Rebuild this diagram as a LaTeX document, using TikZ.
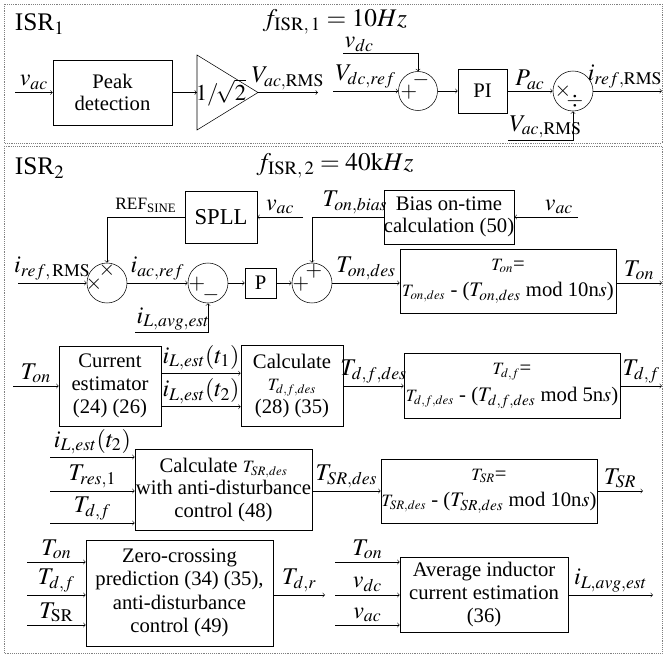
\documentclass[tikz,border=0pt]{standalone}
\usepackage{mathptmx}
\usepackage{fontspec}
\setmainfont{Liberation Serif}
\newcommand{\tsub}[1]{{\fontsize{13}{17}\selectfont$#1$}}
\begin{document}
\begin{tikzpicture}[x=0.75pt,y=0.75pt,yscale=-1,xscale=1,
    blk/.style={draw, align=center, inner sep=0pt, font=\fontsize{15.5}{17}\selectfont},
    modbox/.style={blk, minimum width=162pt, minimum height=48pt, font=\fontsize{15.5}{20}\selectfont},
    sumc/.style={draw, circle, minimum size=30pt, inner sep=0pt},
    lbl/.style={font=\fontsize{18}{20}\selectfont, inner sep=2pt},
    sgn/.style={font=\fontsize{16}{16}\selectfont, inner sep=0pt},
    region/.style={draw=gray, densely dotted}]
    \useasboundingbox (0,0) rectangle (665,656);
    % ISR1
    \draw[region] (4,4) rectangle (662,143);
    \node[lbl, anchor=west, font=\fontsize{19}{21}\selectfont] at (12,24) {ISR$_1$};
    \node[lbl, font=\fontsize{19}{21}\selectfont] at (335,22) {$f_{\mathrm{ISR,\,1}} = 10Hz$};
    \coordinate (vac1) at (15,92.5);
    \node[blk, minimum width=89.25pt, minimum height=48.75pt] (peak) at (112.5,92.5) {Peak\\detection};
    \draw (197,55) -- (258,92.5) -- (197,130) -- cycle;
    \coordinate (gainin) at (197,92.5);
    \coordinate (gainout) at (258,92.5);
    \node[lbl, font=\fontsize{17}{19}\selectfont, inner sep=0pt] (gain) at (221,92.5) {$1/\!\sqrt{2}$};
    \coordinate (vrms1) at (318,92.5);
    \coordinate (vdcref) at (333,91);
    \coordinate (vdc) at (343,53);
    \node[sumc, minimum size=29.25pt] (sum1) at (418,91) {};
    \node[sgn] at (409,92) {$+$};
    \node[sgn] at (421,80) {$-$};
    \node[blk, minimum width=36.75pt, minimum height=33pt] (pi) at (482.5,91) {PI};
    \node[sumc] (mul1) at (573,91) {};
    \node[sgn] at (563,91) {$\times$};
    \node[sgn] at (575,101) {$\div$};
    \coordinate (vrms2) at (508,140);
    \coordinate (irefout) at (662,91);
    \draw[->] (vac1) -- node[lbl, above] {$v_{ac}$} (peak);
    \draw[->] (peak) -- (gainin);
    \draw[->] (gainout) -- node[lbl, above] {$V_{ac,\mathrm{RMS}}$} (vrms1);
    \draw[->] (vdcref) -- node[lbl, above] {$V_{dc,ref}$} (sum1);
    \draw[->] (vdc) -| (sum1);
    \node[lbl, above right, inner sep=1pt] at (vdc) {$v_{dc}$};
    \draw[->] (sum1) -- (pi);
    \draw[->] (pi) -- node[lbl, above, inner sep=1pt] {$P_{ac}$} (mul1);
    \draw[->] (vrms2) -| (mul1);
    \node[lbl, above right, inner sep=1pt] at (vrms2) {$V_{ac,\mathrm{RMS}}$};
    \draw[->] (mul1) -- node[lbl, above, xshift=-2pt] {$i_{ref,\mathrm{RMS}}$} (irefout);
    % ISR2
    \draw[region] (4,146) rectangle (662,653);
    \node[lbl, anchor=west, font=\fontsize{19}{21}\selectfont] at (12,168) {ISR$_2$};
    \node[lbl, font=\fontsize{19}{21}\selectfont] at (335,166) {$f_{\mathrm{ISR,\,2}} = 40\mathrm{k}Hz$};
    \node[blk, minimum width=54pt, minimum height=39pt, font=\fontsize{17}{19}\selectfont] (spll) at (221,217) {SPLL};
    \coordinate (vac2) at (303,217);
    \node[blk, minimum width=73.5pt, minimum height=40.5pt] (bias) at (449,217) {Bias on-time\\calculation (50)};
    \coordinate (vac3) at (578,217);
    \coordinate (irefin) at (18,283);
    \node[sumc] (mul2) at (107,283) {};
    \node[sgn] at (94,284) {$\times$};
    \node[sgn] at (107,270) {$\times$};
    \node[sumc] (sum2) at (208,283) {};
    \node[sgn] at (197,284) {$+$};
    \node[sgn] at (211,295) {$-$};
    \coordinate (iavg) at (135,332);
    \node[blk, minimum width=23.25pt, minimum height=22.5pt] (pbox) at (260.5,283) {P};
    \node[sumc] (sum3) at (312,283) {};
    \node[sgn] at (301,284) {$+$};
    \node[sgn] at (314,271) {$+$};
    \node[modbox] (ton) at (508,281) {\tsub{T_{on}}=\\\tsub{T_{on,des}} - ($T_{on,des}$ mod 10n$s$)};
    \coordinate (tonout) at (662,283);
    \draw[->] (vac2) -- node[lbl, above] {$v_{ac}$} (spll);
    \draw[->] (spll) -| node[above, pos=0.25, font=\fontsize{13}{15}\selectfont] {REF\textsubscript{SINE}} (mul2);
    \draw[->] (vac3) -- node[lbl, above, pos=0.3] {$v_{ac}$} (bias);
    \draw[->] (bias) -| node[lbl, above, pos=0.2] {$T_{on,bias}$} (sum3);
    \draw[->] (irefin) -- node[lbl, above] {$i_{ref,\,\mathrm{RMS}}$} (mul2);
    \draw[->] (mul2) -- node[lbl, above] {$i_{ac,ref}$} (sum2);
    \draw[->] (iavg) -| (sum2);
    \node[lbl, above right, inner sep=1pt] at (iavg) {$i_{L,avg,est}$};
    \draw[->] (sum2) -- (pbox);
    \draw[->] (pbox) -- (sum3);
    \draw[->] (sum3) -- node[lbl, above] {$T_{on,des}$} (sum3 -| ton.west);
    \draw[->] (tonout -| ton.east) -- node[lbl, above] {$T_{on}$} (tonout);
    % current estimator and T_d,f
    \coordinate (tonin) at (13,386);
    \node[blk, minimum width=76.5pt, minimum height=60pt] (est) at (110,386) {Current\\estimator\\(24) (26)};
    \node[blk, minimum width=76.5pt, minimum height=60.75pt] (calc) at (292,386) {Calculate\\\tsub{T_{d,f,des}}\\(28) (35)};
    \node[modbox, minimum height=48.75pt] (tdf) at (512,386) {\tsub{T_{d,f}}=\\\tsub{T_{d,f,des}} - ($T_{d,f,des}$ mod 5n$s$)};
    \coordinate (tdfout) at (662,386);
    \draw[->] (tonin) -- node[lbl, above] {$T_{on}$} (est);
    \draw[->] (est.14) -- node[lbl, above] {$i_{L,est}(t_1)$} (est.14 -| calc.west);
    \draw[->] (est.-22) -- node[lbl, above] {$i_{L,est}(t_2)$} (est.-22 -| calc.west);
    \draw[->] (calc) -- node[lbl, above] {$T_{d,f,des}$} (tdf);
    \draw[->] (tdf) -- node[lbl, above] {$T_{d,f}$} (tdfout);
    % T_SR
    \coordinate (in41) at (50,457);
    \coordinate (in42) at (50,491);
    \coordinate (in43) at (50,523);
    \node[blk, minimum width=132.75pt, minimum height=60.75pt] (tsrc) at (223.5,490) {Calculate \tsub{T_{SR,des}}\\with anti-disturbance\\control (48)};
    \node[modbox] (tsr) at (489,491) {\tsub{T_{SR}}=\\\tsub{T_{SR,des}} - ($T_{SR,des}$ mod 10n$s$)};
    \coordinate (tsrout) at (643,491);
    \draw[->] (in41) -- node[lbl, above] {$i_{L,est}(t_2)$} (in41 -| tsrc.west);
    \draw[->] (in42) -- node[lbl, above] {$T_{res,1}$} (in42 -| tsrc.west);
    \draw[->] (in43) -- node[lbl, above] {$T_{d,f}$} (in43 -| tsrc.west);
    \draw[->] (in42 -| tsrc.east) -- node[lbl, above] {$T_{SR,des}$} (tsr);
    \draw[->] (tsr) -- node[lbl, above] {$T_{SR}$} (tsrout);
    % zero crossing and average current
    \coordinate (in51) at (27,562);
    \coordinate (in52) at (27,595);
    \coordinate (in53) at (27,625);
    \node[blk, minimum width=140.25pt, minimum height=79.5pt, font=\fontsize{15.5}{17.5}\selectfont] (zc) at (179.5,593) {Zero-crossing\\prediction (34) (35),\\anti-disturbance\\control (49)};
    \coordinate (tdr) at (325,595);
    \coordinate (in61) at (335,562);
    \coordinate (in62) at (335,595);
    \coordinate (in63) at (335,625);
    \node[blk, minimum width=126pt, minimum height=56.25pt] (avg) at (484,594.5) {Average inductor\\current estimation\\(36)};
    \coordinate (iavgout) at (653,595);
    \draw[->] (in51) -- node[lbl, above] {$T_{on}$} (in51 -| zc.west);
    \draw[->] (in52) -- node[lbl, above] {$T_{d,f}$} (in52 -| zc.west);
    \draw[->] (in53) -- node[lbl, above] {$T_{\mathrm{SR}}$} (in53 -| zc.west);
    \draw[->] (tdr -| zc.east) -- node[lbl, above] {$T_{d,r}$} (tdr);
    \draw[->] (in61) -- node[lbl, above] {$T_{on}$} (in61 -| avg.west);
    \draw[->] (in62) -- node[lbl, above] {$v_{dc}$} (in62 -| avg.west);
    \draw[->] (in63) -- node[lbl, above] {$v_{ac}$} (in63 -| avg.west);
    \draw[->] (in62 -| avg.east) -- node[lbl, above] {$i_{L,avg,est}$} (iavgout);
\end{tikzpicture}
\end{document}
